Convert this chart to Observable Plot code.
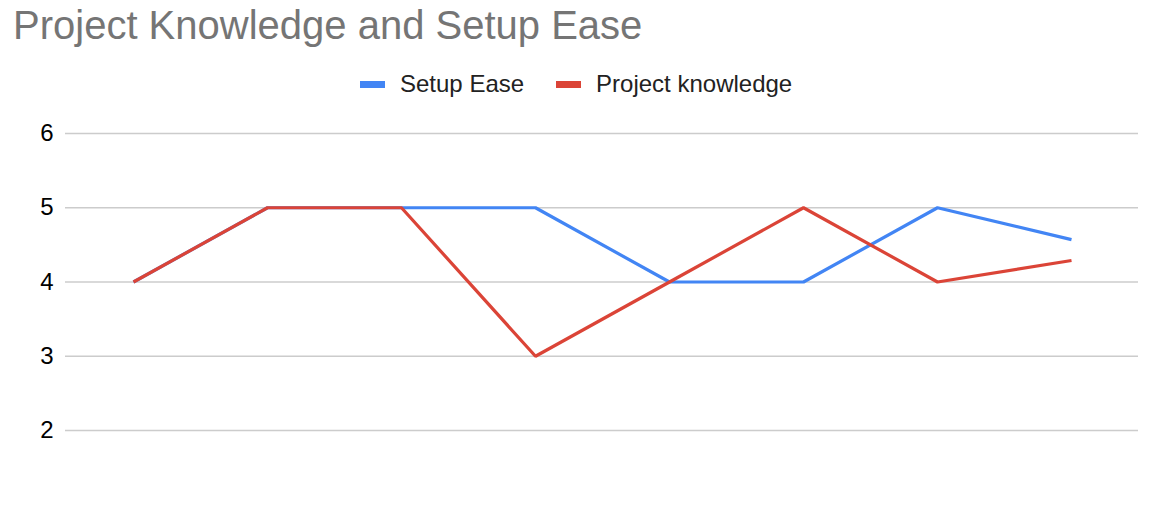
<!DOCTYPE html>
<html>
<head>
<meta charset="utf-8">
<script src="https://cdn.jsdelivr.net/npm/d3@7"></script>
<script src="https://cdn.jsdelivr.net/npm/@observablehq/plot@0.6"></script>
<style>
  html, body { margin: 0; padding: 0; background: #fff; }
  body { width: 1168px; height: 518px; overflow: hidden; font-family: "Liberation Sans", Arial, sans-serif; }
  #wrap { position: relative; width: 1168px; height: 518px; }
  #title { position: absolute; left: 13px; top: 0px; height: 50px; line-height: 50px; font-size: 40px; color: #757575; white-space: nowrap; }
  #legend { position: absolute; left: 360px; top: 68px; height: 32px; display: flex; align-items: center; font-size: 24px; color: #222; }
  .item { display: flex; align-items: center; margin-right: 32px; }
  .sw { width: 25px; height: 7px; margin-right: 15px; }
  #chart { position: absolute; left: 0; top: 110px; }
</style>
</head>
<body>
<div id="wrap">
  <div id="title">Project Knowledge and Setup Ease</div>
  <div id="legend"></div>
  <div id="chart"></div>
</div>
<script>
const categories = [1, 2, 3, 4, 5, 6, 7, 8];
const setupEase = [4, 5, 5, 5, 4, 4, 5, 4.57];
const projectKnowledge = [4, 5, 5, 3, 4, 5, 4, 4.29];
const seriesNames = ["Setup Ease", "Project knowledge"];
const seriesColors = ["#4285f4", "#db4437"];
const yTicks = [2, 3, 4, 5, 6];

const data = [];
categories.forEach((c, i) => {
  data.push({cat: c, value: setupEase[i], series: seriesNames[0]});
});
categories.forEach((c, i) => {
  data.push({cat: c, value: projectKnowledge[i], series: seriesNames[1]});
});

const legend = document.getElementById("legend");
seriesNames.forEach((n, i) => {
  const it = document.createElement("div");
  it.className = "item";
  const sw = document.createElement("div");
  sw.className = "sw";
  sw.style.background = seriesColors[i];
  const t = document.createElement("span");
  t.textContent = n;
  it.appendChild(sw); it.appendChild(t);
  legend.appendChild(it);
});

const chart = Plot.plot({
  width: 1168,
  height: 408,
  marginLeft: 65,
  marginRight: 30,
  marginTop: 23,
  marginBottom: 88,
  style: {fontFamily: "Liberation Sans, Arial, sans-serif", fontSize: "24px", color: "#000", background: "#fff"},
  x: {type: "point", domain: categories, padding: 0.5, axis: null},
  y: {domain: [2, 6], ticks: yTicks, label: null},
  color: {domain: seriesNames, range: seriesColors},
  marks: [
    Plot.ruleY(yTicks, {stroke: "#cccccc", strokeWidth: 1.5}),
    Plot.axisY({ticks: yTicks, tickFormat: d3.format("d"), tickSize: 0, tickPadding: 12, label: null, fill: "#000", fontSize: 24}),
    Plot.line(data, {x: "cat", y: "value", z: "series", stroke: "series", strokeWidth: 3.2, strokeLinejoin: "miter", strokeLinecap: "butt"})
  ]
});
document.getElementById("chart").appendChild(chart);
</script>
</body>
</html>
